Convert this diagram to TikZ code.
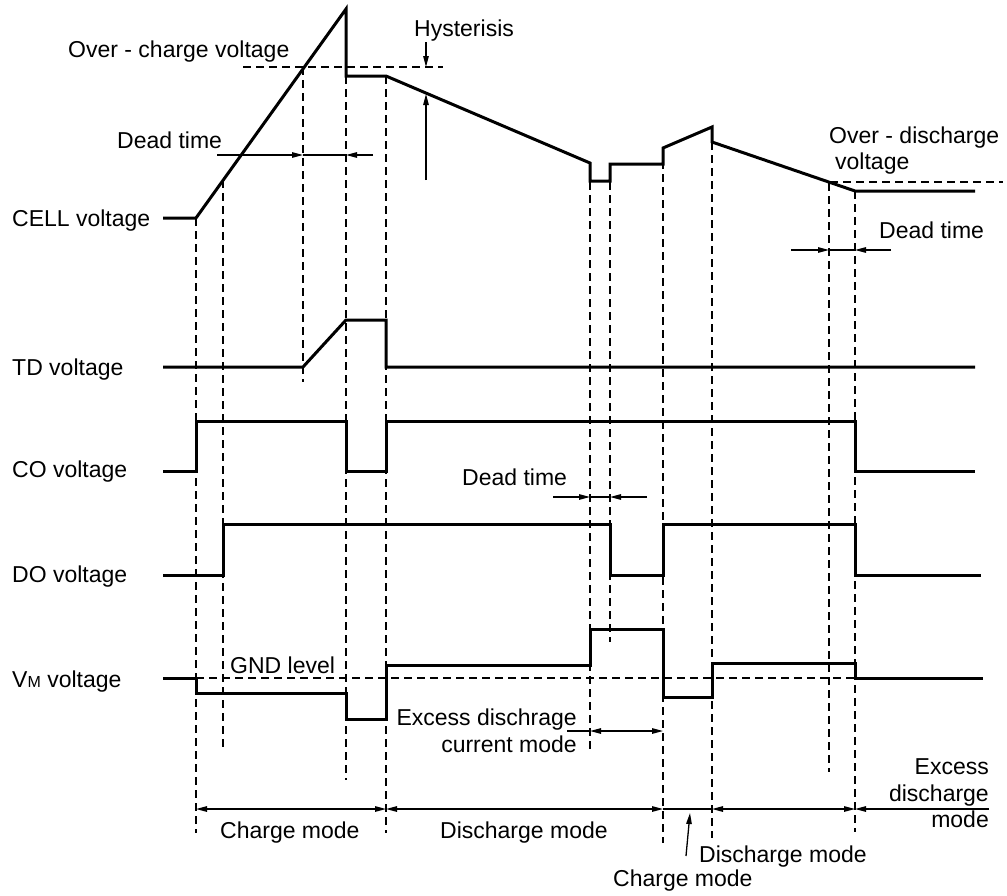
\documentclass[tikz,border=0pt]{standalone}
\usepackage{fontspec}
\setmainfont{Liberation Sans}
\usetikzlibrary{arrows.meta}
\begin{document}
\begin{tikzpicture}[x=1pt,y=-1pt,
  >={Triangle[length=11pt,width=5.5pt]},
  sig/.style={line width=3pt, line join=miter, line cap=butt},
  guide/.style={line width=1.2pt, dash pattern=on 8pt off 5pt},
  dim/.style={line width=1.3pt},
  lbl/.style={inner sep=0pt, font=\fontsize{23}{27}\selectfont}]
\useasboundingbox (0,0) rectangle (1007,895);

% guide lines
\draw[guide] (196,218) -- (196,833);
\draw[guide] (223,180) -- (223,749);
\draw[guide] (303,67) -- (303,382);
\draw[guide] (346,76) -- (346,780);
\draw[guide] (386,76) -- (386,833);
\draw[guide] (590,182) -- (590,752);
\draw[guide] (610,182) -- (610,642);
\draw[guide] (663,148) -- (663,843);
\draw[guide] (712,142) -- (712,838);
\draw[guide] (829,183) -- (829,772);
\draw[guide] (855,191) -- (855,832);
\draw[guide] (243,67) -- (443,67);
\draw[guide] (830,182) -- (1003,182);
\draw[guide] (196,678) -- (855,678);

% signals
\draw[sig] (163,218) -- (196,218) -- (346,9) -- (346,76) -- (386,76) -- (590,163) -- (590,181) -- (610,181) -- (610,164) -- (663,164) -- (663,148) -- (712,127) -- (712,142) -- (855,191) -- (975,191);
\draw[sig] (163,367) -- (303,367) -- (346,320) -- (386,320) -- (386,367) -- (975,367);
\draw[sig] (163,471) -- (196,471) -- (196,421) -- (346,421) -- (346,471) -- (386,471) -- (386,421) -- (855,421) -- (855,471) -- (975,471);
\draw[sig] (163,575) -- (223,575) -- (223,524) -- (610,524) -- (610,575) -- (663,575) -- (663,524) -- (855,524) -- (855,575) -- (981,575);
\draw[sig] (163,678) -- (196,678) -- (196,693) -- (346,693) -- (346,719) -- (386,719) -- (386,665) -- (590,665) -- (590,629) -- (663,629) -- (663,697) -- (712,697) -- (712,663) -- (855,663) -- (855,678) -- (983,678);

% dimension arrows
\draw[dim,->] (426,42) -- (426,67);
\draw[dim,->] (426,180) -- (426,94);
\draw[dim,->] (217,155) -- (303,155);
\draw[dim,->] (373,155) -- (346,155);
\draw[dim] (303,155) -- (346,155);
\draw[dim,->] (553,497) -- (590,497);
\draw[dim,->] (647,497) -- (610,497);
\draw[dim] (590,497) -- (610,497);
\draw[dim,->] (791,250) -- (829,250);
\draw[dim,->] (891,250) -- (855,250);
\draw[dim] (829,250) -- (855,250);
\draw[dim] (567,731) -- (590,731);
\draw[dim,<->] (590,731) -- (663,731);
\draw[dim,<->] (196,809) -- (386,809);
\draw[dim,<->] (386,809) -- (663,809);
\draw[dim] (663,809) -- (712,809);
\draw[dim,<->] (712,809) -- (855,809);
\draw[dim,->] (989,809) -- (855,809);
\draw[dim,->] (686,856) -- (690,813);

% labels
\node[lbl,anchor=base west] (lov) at (68,57) {Over - charge voltage};
\node[lbl,anchor=base west] (lhy) at (414,36) {Hysterisis};
\node[lbl,anchor=base west] (ldt1) at (117,148) {Dead time};
\node[lbl,anchor=base west] (lcell) at (12,226) {CELL voltage};
\node[lbl,anchor=base west] (lod1) at (829,143) {Over - discharge};
\node[lbl,anchor=base west] (lod2) at (835,169) {voltage};
\node[lbl,anchor=base west] (ldt3) at (879,238) {Dead time};
\node[lbl,anchor=base west] (ltd) at (12,375) {TD voltage};
\node[lbl,anchor=base west] (lco) at (12,477) {CO voltage};
\node[lbl,anchor=base west] (ldt2) at (462,485) {Dead time};
\node[lbl,anchor=base west] (ldo) at (12,582) {DO voltage};
\node[lbl,anchor=base west] (lgnd) at (230,673) {GND level};
\node[lbl,anchor=base west] (lvm) at (12,687) {V{\fontsize{16}{16}\selectfont M} voltage};
\node[lbl,anchor=base east] (lex1) at (577,725) {Excess dischrage};
\node[lbl,anchor=base east] (lex2) at (577,752) {current mode};
\node[lbl,anchor=base west] (lcm1) at (220,838) {Charge mode};
\node[lbl,anchor=base west] (ldm1) at (440,838) {Discharge mode};
\node[lbl,anchor=base west] (ldm2) at (699,862) {Discharge mode};
\node[lbl,anchor=base west] (lcm2) at (613,886) {Charge mode};
\node[lbl,anchor=base east] (led1) at (989,774) {Excess};
\node[lbl,anchor=base east] (led2) at (989,801) {discharge};
\node[lbl,anchor=base east] (led3) at (989,827) {mode};
\end{tikzpicture}
\end{document}
